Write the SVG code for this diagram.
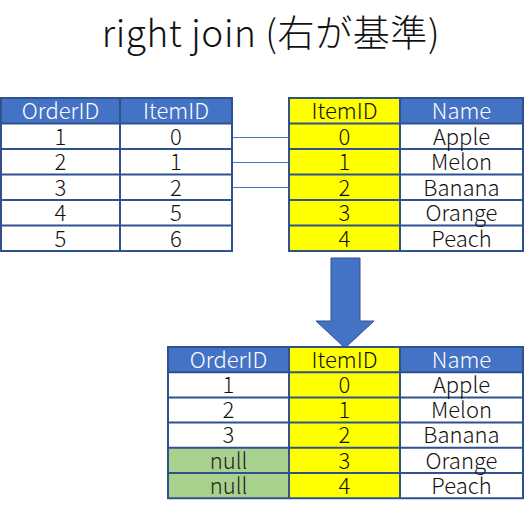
<svg xmlns="http://www.w3.org/2000/svg" width="524" height="516" viewBox="0 0 524 516">
<style>
text{font-family:"Noto Sans CJK JP","Noto Sans",sans-serif;text-anchor:middle;font-weight:300;}
.t{font-size:22px;fill:#111;}
.h{font-size:22px;fill:#fff;}
.hb{fill:#4472C4;}
.y{fill:#FFFF00;}
.w{fill:#fff;}
.g{fill:#A9D18E;}
.grid{stroke:#2F528F;stroke-width:2;fill:none;}
.conn{stroke:#4472C4;stroke-width:1;fill:none;}
</style>
<rect width="524" height="516" fill="#fff"/>
<text id="title" x="271" y="47" style="font-size:37px;fill:#111;letter-spacing:0.6px;">right join (右が基準)</text>

<g id="orders">
<rect class="hb" x="1" y="98" width="231" height="25.5"/>
<rect class="w" x="1" y="123.5" width="231" height="127.5"/>
<path class="grid" d="M1 98H232V251H1Z M120 98V251 M1 123.5H232 M1 149H232 M1 174.5H232 M1 200H232 M1 225.5H232"/>
<text class="h" x="60.5" y="118.5">OrderID</text><text class="h" x="176" y="118.5">ItemID</text>
<text class="t" x="60.5" y="144.5">1</text><text class="t" x="176" y="144.5">0</text>
<text class="t" x="60.5" y="170">2</text><text class="t" x="176" y="170">1</text>
<text class="t" x="60.5" y="195.5">3</text><text class="t" x="176" y="195.5">2</text>
<text class="t" x="60.5" y="221">4</text><text class="t" x="176" y="221">5</text>
<text class="t" x="60.5" y="246.5">5</text><text class="t" x="176" y="246.5">6</text>
</g>

<g id="items">
<rect class="y" x="289" y="98" width="111" height="153"/>
<rect class="hb" x="400" y="98" width="123" height="25.5"/>
<rect class="w" x="400" y="123.5" width="123" height="127.5"/>
<path class="grid" d="M289 98H523V251H289Z M400 98V251 M289 123.5H523 M289 149H523 M289 174.5H523 M289 200H523 M289 225.5H523"/>
<text class="t" x="344.5" y="118.5">ItemID</text><text class="h" x="461.5" y="118.5">Name</text>
<text class="t" x="344.5" y="144.5">0</text><text class="t" x="461.5" y="144.5">Apple</text>
<text class="t" x="344.5" y="170">1</text><text class="t" x="461.5" y="170">Melon</text>
<text class="t" x="344.5" y="195.5">2</text><text class="t" x="461.5" y="195.5">Banana</text>
<text class="t" x="344.5" y="221">3</text><text class="t" x="461.5" y="221">Orange</text>
<text class="t" x="344.5" y="246.5">4</text><text class="t" x="461.5" y="246.5">Peach</text>
</g>

<g id="connectors">
<line class="conn" x1="233" y1="137.5" x2="289" y2="137.5"/>
<line class="conn" x1="233" y1="162.5" x2="289" y2="162.5"/>
<line class="conn" x1="233" y1="187.5" x2="289" y2="187.5"/>
</g>

<g id="arrow">
<path d="M331 258H360V321H374L345 348L316 321H331Z" fill="#4472C4" stroke="#2F528F" stroke-width="1"/>
</g>

<g id="result">
<rect class="hb" x="168" y="347" width="121" height="25.2"/>
<rect class="w" x="168" y="372.2" width="121" height="75.6"/>
<rect class="g" x="168" y="447.8" width="121" height="50.4"/>
<rect class="y" x="289" y="347" width="111" height="151.2"/>
<rect class="hb" x="400" y="347" width="123" height="25.2"/>
<rect class="w" x="400" y="372.2" width="123" height="126"/>
<path class="grid" d="M168 347H523V498.2H168Z M289 347V498.2 M400 347V498.2 M168 372.2H523 M168 397.4H523 M168 422.6H523 M168 447.8H523 M168 473H523"/>
<text class="h" x="228.5" y="367.5">OrderID</text><text class="t" x="344.5" y="367.5">ItemID</text><text class="h" x="461.5" y="367.5">Name</text>
<text class="t" x="228.5" y="393">1</text><text class="t" x="344.5" y="393">0</text><text class="t" x="461.5" y="393">Apple</text>
<text class="t" x="228.5" y="418">2</text><text class="t" x="344.5" y="418">1</text><text class="t" x="461.5" y="418">Melon</text>
<text class="t" x="228.5" y="443">3</text><text class="t" x="344.5" y="443">2</text><text class="t" x="461.5" y="443">Banana</text>
<text class="t" x="228.5" y="468.5" style="fill:#222;">null</text><text class="t" x="344.5" y="468.5">3</text><text class="t" x="461.5" y="468.5">Orange</text>
<text class="t" x="228.5" y="493.5" style="fill:#222;">null</text><text class="t" x="344.5" y="493.5">4</text><text class="t" x="461.5" y="493.5">Peach</text>
</g>
</svg>
